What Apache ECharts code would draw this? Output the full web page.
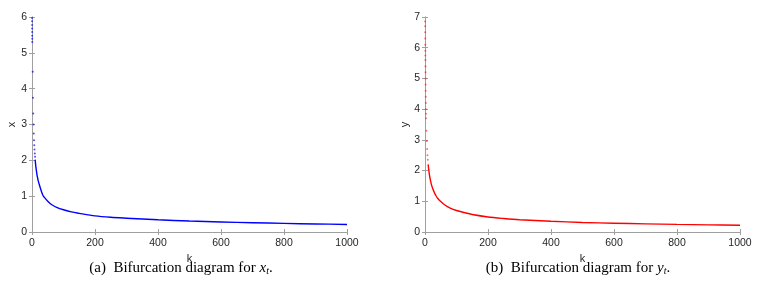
<!DOCTYPE html>
<html>
<head>
<meta charset="utf-8">
<script src="https://cdn.jsdelivr.net/npm/echarts@6/dist/echarts.min.js"></script>
<style>html,body{margin:0;padding:0;background:#fff}#c{width:762px;height:284px}</style>
</head>
<body>
<div id="c"></div>
<script>
// ---- data ----
// panel (a): x_t versus k
const xDotK = [0.15,0.25,0.35,0.45,0.55,0.65,0.75,0.85,2.1,3.0,3.9,4.7,5.6,6.4,7.2,8.0,8.9,9.7];
const xDotV = [5.97,5.88,5.78,5.68,5.58,5.48,5.39,5.30,4.47,3.75,3.31,3.00,2.75,2.56,2.42,2.30,2.19,2.10];
const xLineK = [10,12,14,16,18,20,25,30,35,40,50,63,80,100,125,150,200,250,300,400,500,600,700,800,900,1000];
const xLineV = [2.02,1.84,1.71,1.59,1.50,1.42,1.27,1.13,1.02,0.96,0.86,0.76,0.68,0.62,0.56,0.52,0.45,0.41,0.385,0.34,0.305,0.28,0.26,0.24,0.225,0.21];
// panel (b): y_t versus k
const yDotK = [0.3,0.45,0.6,0.75,0.9,1.05,1.2,1.35,1.5,1.65,1.8,1.95,2.1,2.3,2.5,2.7,2.9,3.1,4.5,5.6,6.7,7.8,8.9];
const yDotV = [6.85,6.70,6.50,6.30,6.10,5.90,5.75,5.60,5.40,5.20,5.00,4.80,4.60,4.40,4.20,4.00,3.85,3.70,3.30,2.96,2.70,2.50,2.35];
const yLineK = [10,12,14,16,18,20,25,30,35,40,50,63,80,100,125,150,200,250,300,400,500,600,700,800,900,1000];
const yLineV = [2.20,2.02,1.87,1.75,1.65,1.56,1.40,1.28,1.18,1.10,0.99,0.88,0.78,0.70,0.63,0.57,0.49,0.44,0.40,0.35,0.31,0.285,0.265,0.247,0.233,0.221];
// axis ranges / tick spacing
const kRange = [0, 1000], kStep = 200;
const xRange = [0, 6], yRange = [0, 7], vStep = 1;
const xName = 'x', yName = 'y', kName = 'k';

const zip = (a, b) => a.map((v, i) => [v, b[i]]);
const AX = '#a0a0a0', TXT = '#262626', FONT = 'Liberation Sans, Arial, sans-serif';
const plain = v => String(v);

function xAxes(gi) {
  const base = {gridIndex: gi, type: 'value', min: kRange[0], max: kRange[1], interval: kStep,
    axisLine: {show: true, lineStyle: {color: AX, width: 1}},
    axisTick: {show: true, inside: true, length: 3, lineStyle: {color: AX}},
    splitLine: {show: false}};
  return [
    Object.assign({}, base, {position: 'bottom', name: kName, nameLocation: 'middle', nameGap: 20,
      nameTextStyle: {color: TXT, fontSize: 11, fontFamily: FONT},
      axisLabel: {color: TXT, fontSize: 10.5, fontFamily: FONT, margin: 6, formatter: plain}}),
    Object.assign({}, base, {position: 'top', axisLabel: {show: false}})
  ];
}
function yAxes(gi, rng, nm) {
  const base = {gridIndex: gi, type: 'value', min: rng[0], max: rng[1], interval: vStep,
    axisLine: {show: true, lineStyle: {color: AX, width: 1}},
    axisTick: {show: true, inside: true, length: 3, lineStyle: {color: AX}},
    splitLine: {show: false}};
  return [
    Object.assign({}, base, {position: 'left', name: nm, nameLocation: 'middle', nameGap: 14, nameRotate: 90,
      nameTextStyle: {color: TXT, fontSize: 11, fontFamily: FONT},
      axisLabel: {color: TXT, fontSize: 10.5, fontFamily: FONT, margin: 5, formatter: plain}}),
    Object.assign({}, base, {position: 'right', axisLabel: {show: false}})
  ];
}

const chart = echarts.init(document.getElementById('c'), null, {renderer: 'canvas'});
const capRich = {
  n: {fontFamily: 'Liberation Serif, Times New Roman, serif', fontSize: 15, color: '#000', lineHeight: 16, verticalAlign: 'middle'},
  i: {fontFamily: 'Liberation Serif, Times New Roman, serif', fontSize: 15, fontStyle: 'italic', color: '#000', lineHeight: 16, verticalAlign: 'middle'},
  s: {fontFamily: 'Liberation Serif, Times New Roman, serif', fontSize: 10, fontStyle: 'italic', color: '#000', lineHeight: 8, verticalAlign: 'bottom'}
};
chart.setOption({
  animation: false,
  backgroundColor: '#fff',
  grid: [
    {left: 32, top: 17, width: 315, height: 215},
    {left: 425, top: 17, width: 315, height: 215}
  ],
  xAxis: [...xAxes(0), ...xAxes(1)],
  yAxis: [...yAxes(0, xRange, xName), ...yAxes(1, yRange, yName)],
  series: [
    {type: 'scatter', xAxisIndex: 0, yAxisIndex: 0, data: zip(xDotK, xDotV), symbolSize: 2,
      itemStyle: {color: '#0000ff', opacity: 0.7}, silent: true},
    {type: 'line', xAxisIndex: 0, yAxisIndex: 0, data: zip(xLineK, xLineV), smooth: 0.3, showSymbol: false,
      lineStyle: {color: '#0000ff', width: 1.4}, silent: true},
    {type: 'scatter', xAxisIndex: 2, yAxisIndex: 2, data: zip(yDotK, yDotV), symbolSize: 2,
      itemStyle: {color: '#ff0000', opacity: 0.55}, silent: true},
    {type: 'line', xAxisIndex: 2, yAxisIndex: 2, data: zip(yLineK, yLineV), smooth: 0.3, showSymbol: false,
      lineStyle: {color: '#ff0000', width: 1.4}, silent: true}
  ],
  graphic: [
    {type: 'text', x: 181, y: 268, style: {text: '{n|(a)  Bifurcation diagram for }{i|x}{s|t}{n|.}', rich: capRich, align: 'center', verticalAlign: 'middle'}},
    {type: 'text', x: 578, y: 268, style: {text: '{n|(b)  Bifurcation diagram for }{i|y}{s|t}{n|.}', rich: capRich, align: 'center', verticalAlign: 'middle'}}
  ]
});
</script>
</body>
</html>
